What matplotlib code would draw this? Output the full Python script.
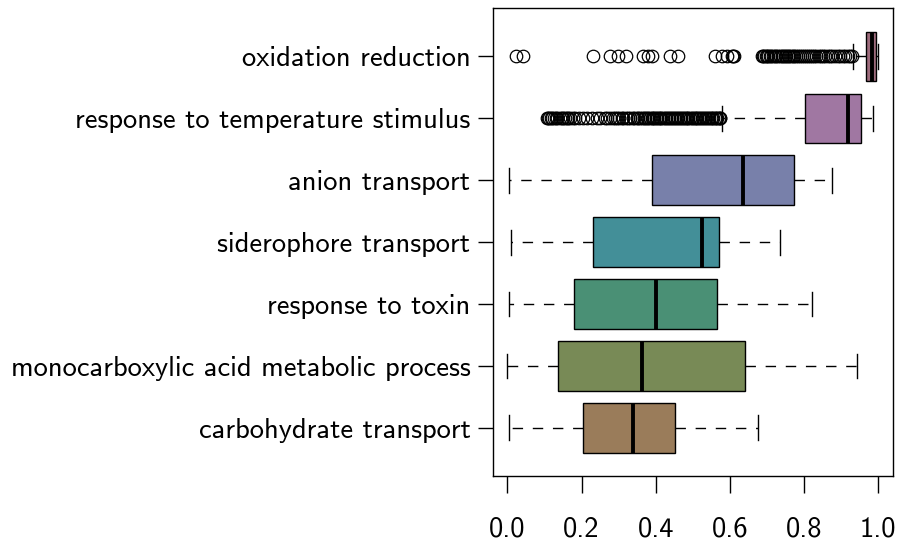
import matplotlib
matplotlib.use("Agg")
import matplotlib.pyplot as plt

plt.rcParams['font.family'] = ['cmss10', 'DejaVu Sans']
plt.rcParams['axes.unicode_minus'] = False
plt.rcParams['mathtext.fontset'] = 'cm'

# GO terms, bottom to top
terms = ["carbohydrate transport",
         "monocarboxylic acid metabolic process",
         "response to toxin",
         "siderophore transport",
         "anion transport",
         "response to temperature stimulus",
         "oxidation reduction"]

colors = ["#9a7c5a", "#788a56", "#4a9075", "#438f98",
          "#7880aa", "#a077a2", "#9d6b7c"]

# five-number summaries per term (same order as terms)
whislo = [0.003, 0.000, 0.003, 0.010, 0.003, 0.579, 0.934]
q1     = [0.204, 0.137, 0.180, 0.231, 0.390, 0.804, 0.968]
med    = [0.340, 0.364, 0.400, 0.525, 0.636, 0.918, 0.985]
q3     = [0.452, 0.641, 0.567, 0.572, 0.774, 0.955, 0.994]
whishi = [0.677, 0.944, 0.821, 0.736, 0.876, 0.986, 0.999]

# outliers beyond the whiskers
fliers_temperature = [0.106, 0.109, 0.113, 0.118, 0.121, 0.126, 0.131, 0.135, 0.141,
                      0.146, 0.149, 0.155, 0.160, 0.164, 0.170, 0.177, 0.183, 0.192,
                      0.203, 0.214, 0.228, 0.241, 0.251, 0.262, 0.269, 0.277, 0.284,
                      0.290, 0.297, 0.302, 0.309, 0.313, 0.321, 0.326, 0.331, 0.338,
                      0.342, 0.349, 0.353, 0.357, 0.364, 0.368, 0.371, 0.377, 0.380,
                      0.384, 0.389, 0.392, 0.395, 0.401, 0.404, 0.409, 0.412, 0.415,
                      0.421, 0.424, 0.429, 0.433, 0.436, 0.441, 0.444, 0.449, 0.452,
                      0.457, 0.461, 0.465, 0.468, 0.473, 0.476, 0.481, 0.485, 0.488,
                      0.493, 0.497, 0.501, 0.505, 0.508, 0.513, 0.517, 0.520, 0.525,
                      0.529, 0.532, 0.537, 0.541, 0.544, 0.549, 0.553, 0.556, 0.561,
                      0.564, 0.567, 0.570, 0.573, 0.575]
fliers_oxidation = [0.023, 0.043, 0.232, 0.277, 0.298, 0.321, 0.366, 0.379, 0.391,
                    0.438, 0.460, 0.560, 0.578, 0.593, 0.605, 0.608, 0.611,
                    0.686, 0.689, 0.693, 0.697, 0.701, 0.704, 0.708, 0.712, 0.716,
                    0.721, 0.725, 0.731, 0.736, 0.741, 0.745, 0.748, 0.752, 0.757,
                    0.761, 0.765, 0.770, 0.774, 0.779, 0.784, 0.790, 0.795, 0.801,
                    0.806, 0.811, 0.816, 0.822, 0.828, 0.834, 0.840, 0.846, 0.852,
                    0.858, 0.864, 0.870, 0.877, 0.884, 0.891, 0.898, 0.905, 0.912,
                    0.920, 0.926, 0.930]
fliers = [[], [], [], [], [], fliers_temperature, fliers_oxidation]

stats = []
for i in range(len(terms)):
    stats.append(dict(label=terms[i], whislo=whislo[i], q1=q1[i], med=med[i],
                      q3=q3[i], whishi=whishi[i], fliers=fliers[i]))

fig = plt.figure(figsize=(8.99, 5.46), dpi=100)
ax = fig.add_axes([0.548, 0.128, 0.445, 0.857])

bp = ax.bxp(stats, positions=range(1, 8), widths=0.8, vert=False,
            patch_artist=True, showfliers=True,
            boxprops=dict(edgecolor="black", linewidth=1.0),
            medianprops=dict(color="black", linewidth=2.8, solid_capstyle="butt"),
            whiskerprops=dict(color="black", linewidth=1.0, linestyle=(0, (7.5, 7))),
            capprops=dict(color="black", linewidth=1.0),
            flierprops=dict(marker="o", markerfacecolor="none", markeredgecolor="black",
                            markersize=9, markeredgewidth=0.9, linestyle="none"))

for patch, c in zip(bp["boxes"], colors):
    patch.set_facecolor(c)

ax.set_xlim(-0.04, 1.04)
ax.set_ylim(0.22, 7.78)
ax.set_xticks([0.0, 0.2, 0.4, 0.6, 0.8, 1.0])
ax.set_xticklabels(["0.0", "0.2", "0.4", "0.6", "0.8", "1.0"])
ax.set_yticks(range(1, 8))
ax.set_yticklabels(terms)
ax.tick_params(axis="x", length=12, width=1, pad=17, labelsize=20.5)
ax.tick_params(axis="y", length=11, width=1, pad=5, labelsize=20.5)
for s in ax.spines.values():
    s.set_linewidth(1.0)

fig.savefig("out.png", dpi=100)
